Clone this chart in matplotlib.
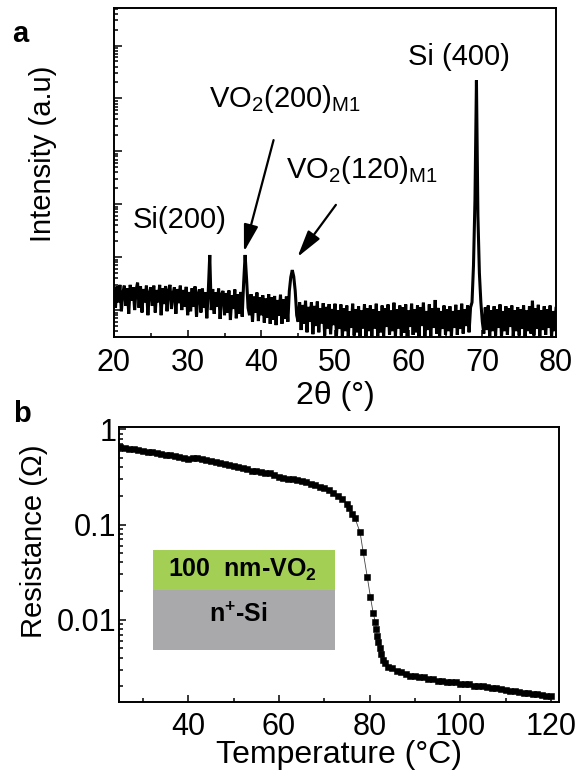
import numpy as np
import matplotlib
matplotlib.use('Agg')
import matplotlib.pyplot as plt
from matplotlib.patches import Rectangle
from matplotlib.ticker import LogLocator, NullFormatter

plt.rcParams['font.family'] = ['Liberation Sans', 'DejaVu Sans']
plt.rcParams['mathtext.fontset'] = 'custom'
plt.rcParams['mathtext.rm'] = 'Liberation Sans'
plt.rcParams['mathtext.it'] = 'Liberation Sans:italic'
plt.rcParams['mathtext.bf'] = 'Liberation Sans:bold'

# (a) XRD scan, 20-80 deg in 0.2 deg steps
scanStart, scanStep = 20.0, 0.2
intensity = [
    230, 110, 280, 140, 300, 95, 210, 290, 120, 260, 85, 300, 150, 270, 100, 240, 330, 110, 280, 90,
    250, 140, 290, 80, 210, 270,
    120, 290, 90, 240, 140, 300, 80, 260, 130, 285, 95, 230, 300, 105, 200, 270, 85, 250, 135, 290,
    100, 240, 115, 275, 80,
    220, 95, 260, 115, 280, 75, 200, 245, 90, 255, 110, 215, 70, 230, 1100, 100, 250, 85, 215, 115,
    255, 68, 200, 230, 80,
    210, 90, 235, 65, 190, 105, 245, 70, 200, 85, 220, 75, 330, 1100, 380, 110, 80, 200, 60, 180,
    90, 215, 62, 175, 80,
    190, 58, 165, 72, 200, 55, 175, 66, 185, 52, 155, 78, 195, 55, 160, 68, 180, 60, 230, 420,
    570, 430, 230, 80, 60,
    140, 42, 125, 55, 150, 38, 115, 60, 140, 35, 120, 50, 145, 38, 108, 56, 135, 33, 115, 45,
    130, 35, 105, 52, 132,
    33, 100, 44, 128, 31, 108, 40, 122, 31, 95, 46, 132, 33, 104, 38, 118, 31, 98, 45, 128,
    32, 108, 40, 122, 31,
    104, 45, 132, 32, 94, 38, 122, 31, 108, 48, 128, 34, 98, 40, 138, 31, 104, 45, 122, 33,
    112, 37, 128, 31, 98,
    48, 132, 34, 104, 38, 122, 31, 112, 50, 138, 32, 96, 42, 128, 31, 108, 46, 155, 36, 110,
    31, 96, 44, 122, 34,
    104, 40, 118, 32, 96, 46, 126, 34, 100, 44, 132, 36, 104, 50, 122, 38, 112, 140, 700, 12000,
    2200000, 6000, 500, 140, 60,
    36, 112, 42, 122, 31, 100, 40, 118, 33, 104, 46, 128, 31, 96, 40, 118, 34, 108, 48, 122,
    32, 100, 40, 114, 33,
    104, 44, 122, 31, 98, 40, 118, 36, 150, 33, 108, 44, 126, 32, 100, 42, 118, 34, 104, 46,
    122, 31, 96, 40, 108,
]
twoTheta = scanStart + scanStep * np.arange(len(intensity))

# (b) R-T curve
temperature = [25, 26, 27, 28, 29, 30, 31, 32, 33, 34, 35, 36, 37, 38, 39, 40, 41, 42, 43, 44,
               45, 46, 47, 48, 49, 50, 51, 52, 53, 54, 55, 56, 57, 58, 59, 60, 61, 62, 63, 64,
               65, 66, 67, 68, 69, 70, 71, 72, 73, 74, 75, 75.5, 76.1, 76.8, 77.9, 78.6, 79.5,
               80.2, 80.8, 81.3, 81.5, 81.7, 81.9, 82.2, 82.6, 83.0, 83.5, 84, 85, 86, 87, 88,
               89, 90, 91, 92, 93, 94, 95, 96, 97, 98, 99, 100, 101, 102, 103, 104, 105, 106,
               107, 108, 109, 110, 111, 112, 113, 114, 115, 116, 117, 118, 119, 120]
resistance = [0.65, 0.64, 0.63, 0.62, 0.61, 0.60, 0.585, 0.575, 0.565, 0.555, 0.545, 0.535, 0.525,
              0.51, 0.50, 0.49, 0.505, 0.50, 0.49, 0.475, 0.465, 0.455, 0.445, 0.435, 0.42, 0.41,
              0.40, 0.39, 0.38, 0.37, 0.365, 0.36, 0.35, 0.345, 0.335, 0.32, 0.312, 0.305, 0.30,
              0.295, 0.288, 0.28, 0.27, 0.26, 0.25, 0.24, 0.23, 0.215, 0.20, 0.185, 0.165, 0.15,
              0.13, 0.116, 0.083, 0.051, 0.028, 0.0172, 0.0117, 0.0094, 0.0081, 0.0068, 0.0058,
              0.0050, 0.0044, 0.0038, 0.0035, 0.0032, 0.0031, 0.0029, 0.0028, 0.0027, 0.0026,
              0.0026, 0.0025, 0.0025, 0.0024, 0.0024, 0.0023, 0.0023, 0.0022, 0.0022, 0.0022,
              0.0021, 0.0021, 0.0021, 0.0020, 0.0020, 0.0020, 0.00195, 0.0019, 0.0019, 0.00187,
              0.00184, 0.0018, 0.00178, 0.00175, 0.00172, 0.0017, 0.00168, 0.00165, 0.00163,
              0.0016, 0.00158]

W, H = 582, 770
fig = plt.figure(figsize=(W / 100, H / 100), dpi=100)

def styleAxis(ax):
    for sp in ax.spines.values():
        sp.set_linewidth(1.4)
    ax.tick_params(which='both', direction='in', top=False, right=False, width=1.1,
                   labelsize=22)
    ax.tick_params(which='major', length=5)
    ax.tick_params(which='minor', length=3)

def logTicks(ax):
    ax.yaxis.set_major_locator(LogLocator(base=10, numticks=20))
    ax.yaxis.set_minor_locator(LogLocator(base=10, subs=np.arange(2, 10), numticks=20))
    ax.yaxis.set_minor_formatter(NullFormatter())

# ---- panel a ----
ax1 = fig.add_axes([114 / W, 1 - 337 / H, 442 / W, 328.7 / H])
ax1.plot(twoTheta, intensity, color='black', lw=2.2, solid_joinstyle='miter')
ax1.set_yscale('log')
ax1.set_xlim(20, 80)
ax1.set_ylim(31, 5.05e7)
logTicks(ax1)
ax1.set_xticks(range(20, 81, 10))
ax1.set_xticks(range(25, 80, 10), minor=True)
styleAxis(ax1)
ax1.tick_params(axis='y', which='both', labelleft=False)
ax1.tick_params(axis='y', which='major', length=6)
ax1.tick_params(axis='x', which='both', pad=8)
ax1.set_xlabel('2θ (°)', fontsize=23, labelpad=2)
fig.text(43 / W, 1 - 154 / H, 'Intensity (a.u)', rotation=90, fontsize=21,
         ha='center', va='center')

ax1.text(0.665, 0.8275, 'Si (400)', transform=ax1.transAxes, fontsize=21,
         ha='left', va='baseline')
ax1.text(0.215, 0.70, r'VO$_2$(200)$_{\rm M1}$', transform=ax1.transAxes, fontsize=21,
         ha='left', va='baseline')
ax1.text(0.389, 0.484, r'VO$_2$(120)$_{\rm M1}$', transform=ax1.transAxes, fontsize=21,
         ha='left', va='baseline')
ax1.text(0.043, 0.332, 'Si(200)', transform=ax1.transAxes, fontsize=21,
         ha='left', va='baseline')
arrowStyle = dict(arrowstyle='-|>,head_length=0.75,head_width=0.2', color='black',
                  lw=1.6, mutation_scale=22, shrinkA=0, shrinkB=0)
ax1.annotate('', xy=(0.294, 0.259), xytext=(0.361, 0.599), xycoords='axes fraction',
             arrowprops=arrowStyle)
ax1.annotate('', xy=(0.415, 0.243), xytext=(0.502, 0.402), xycoords='axes fraction',
             arrowprops=arrowStyle)
fig.text(12 / W, 1 - 42 / H, 'a', fontsize=21, fontweight='bold', va='baseline')

# ---- panel b ----
ax2 = fig.add_axes([119 / W, 1 - 702 / H, 440 / W, 275 / H])
ax2.plot(temperature, resistance, color='#444444', lw=0.6, marker='s', ms=5.0,
         mfc='black', mec='black', mew=0.4)
ax2.set_yscale('log')
ax2.set_xlim(24.7, 121.8)
ax2.set_ylim(0.00137, 1.06)
logTicks(ax2)
ax2.set_xticks(range(40, 121, 20))
ax2.set_xticks(range(30, 121, 20), minor=True)
ax2.set_yticks([0.01, 0.1, 1])
ax2.set_yticklabels(['0.01', '0.1', '1'])
styleAxis(ax2)
ax2.tick_params(axis='y', which='both', pad=2)
ax2.tick_params(axis='x', which='both', pad=7)
ax2.set_xlabel('Temperature (°C)', fontsize=23, labelpad=-1)
fig.text(34 / W, 1 - 541 / H, 'Resistance (Ω)', rotation=90, fontsize=21,
         ha='center', va='center')
fig.text(13 / W, 1 - 422 / H, 'b', fontsize=21, fontweight='bold', va='baseline')

# inset: layer stack sketch
ax2.add_patch(Rectangle((0.077, 0.407), 0.414, 0.146, transform=ax2.transAxes,
                        facecolor='#a3cf55', edgecolor='none', zorder=3))
ax2.add_patch(Rectangle((0.077, 0.189), 0.414, 0.218, transform=ax2.transAxes,
                        facecolor='#a9a8ab', edgecolor='none', zorder=3))
ax2.text(0.28, 0.48, r'100  nm-VO$_\mathbf{2}$', transform=ax2.transAxes, fontsize=18,
         fontweight='bold', ha='center', va='center', zorder=4)
ax2.text(0.272, 0.316, r'n$^\mathbf{+}$-Si', transform=ax2.transAxes, fontsize=18,
         fontweight='bold', ha='center', va='center', zorder=4)

fig.savefig('out.png', dpi=100)
